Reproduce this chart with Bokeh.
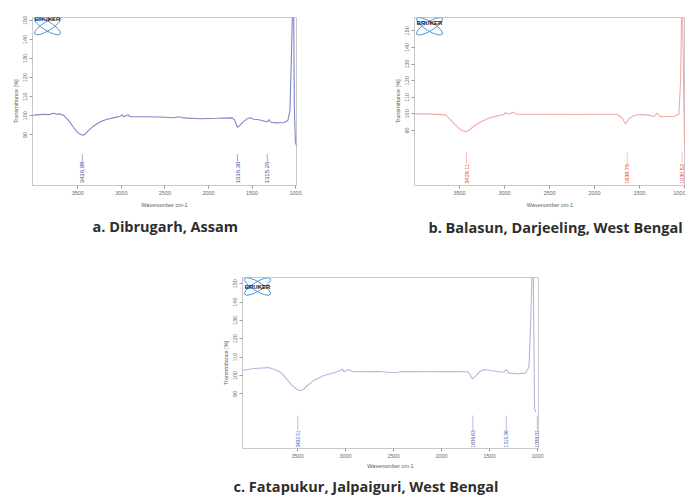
from bokeh.plotting import figure
from bokeh.models import Range1d, FixedTicker, Label
from bokeh.layouts import row, column, Spacer
from bokeh.embed import file_html
from bokeh.resources import INLINE
from bokeh.core.properties import value

# ---------------- data ----------------
a_wn = [4020, 3969, 3893, 3836, 3778, 3739, 3701, 3663, 3624, 3586, 3548, 3510, 3471, 3440,
        3414, 3376, 3318, 3241, 3164, 3069, 3011, 2992, 2974, 2923, 2897, 2744, 2552, 2399,
        2341, 2284, 2092, 1900, 1728, 1698, 1667, 1640, 1601, 1555, 1525, 1479, 1422, 1364,
        1325, 1307, 1287, 1210, 1134, 1089, 1066, 1049, 1034, 1023, 1015, 1003, 990]
a_tr = [100.3, 100.5, 100.8, 100.6, 101.3, 100.8, 101.0, 100.2, 98.5, 96.3, 93.9, 91.6, 90.3, 89.8,
        90.5, 92.4, 94.7, 96.9, 98.2, 99.2, 99.8, 100.6, 99.5, 100.5, 99.5, 99.5, 99.4, 99.0,
        99.5, 98.9, 98.5, 98.7, 98.9, 97.6, 93.9, 95.0, 96.8, 98.5, 99.0, 98.2, 97.9, 97.3,
        96.8, 98.1, 96.6, 96.3, 96.5, 97.6, 102.4, 129.8, 160.0, 160.0, 105.6, 86.3, 84.4]
a_peaks = [3448, 1667, 1325]
a_peak_labels = ["3436.98", "1636.30", "1315.26"]

b_wn = [4000, 3859, 3656, 3600, 3544, 3489, 3433, 3396, 3341, 3267, 3174, 3081, 3007, 2989,
        2952, 2904, 2859, 2563, 2193, 2007, 1748, 1692, 1656, 1619, 1563, 1489, 1415, 1341,
        1304, 1267, 1119, 1063, 1044, 1033, 1022, 1000, 989]
b_tr = [100.0, 100.0, 99.4, 96.5, 93.2, 90.4, 89.3, 90.0, 92.6, 95.1, 97.5, 98.8, 99.6, 100.8,
        99.8, 101.0, 99.8, 99.8, 99.6, 99.8, 99.8, 97.5, 93.9, 97.0, 99.0, 99.6, 99.4, 98.4,
        100.4, 98.4, 98.4, 99.8, 119.0, 160.0, 160.0, 82.0, 78.0]
b_peaks = [3422, 1637, 1026]
b_peak_labels = ["3429.11", "1638.76", "1030.52"]

c_wn = [4070, 3955, 3799, 3711, 3659, 3607, 3555, 3510, 3476, 3441, 3399, 3330, 3226, 3122,
        3052, 3034, 3018, 2966, 2930, 2670, 2479, 2409, 2149, 1906, 1732, 1705, 1680, 1646,
        1601, 1559, 1490, 1420, 1351, 1323, 1299, 1212, 1125, 1090, 1073, 1055, 1045, 1031, 1020]
c_tr = [102.7, 103.8, 104.3, 102.7, 100.9, 97.6, 94.5, 92.5, 91.8, 92.2, 94.4, 97.3, 100.0, 101.5,
        102.7, 103.5, 102.0, 103.3, 102.0, 102.2, 101.5, 102.2, 102.0, 102.2, 102.0, 100.7, 98.2, 99.5,
        102.2, 103.3, 102.7, 102.2, 101.8, 103.3, 101.3, 100.9, 101.3, 104.5, 126.4, 160.0, 160.0, 82.0, 80.0]
c_peaks = [3497, 1674, 1326, 1003]
c_peak_labels = ["3432.51", "1636.63", "1315.36", "1038.07"]

x_ticks = [3500, 3000, 2500, 2000, 1500, 1000]
y_ticks = [90, 100, 110, 120, 130, 140, 150]
captions = ["a. Dibrugarh, Assam", "b. Balasun, Darjeeling, West Bengal",
            "c. Fatapukur, Jalpaiguri, West Bengal"]

CAP_FONT = "Open Sans"
CAP_SIZE = "14.5px"
CAP_COLOR = "#2e2e2e"


def panel(wn, tr, peaks, peak_labels, caption, xr, yr, fig_w, fig_h, b_left, b_top, frame_w, frame_h,
          line_color, mark_color, text_color, mark_px, peak_font, cap_offset, cap_standoff,
          title_standoff):
    p = figure(width=fig_w, height=fig_h, x_range=Range1d(*xr), y_range=Range1d(*yr),
               output_backend="svg", toolbar_location=None,
               min_border_left=b_left, min_border_top=b_top,
               min_border_right=fig_w - b_left - frame_w,
               min_border_bottom=fig_h - b_top - frame_h,
               title_location="below")
    p.background_fill_color = "white"
    p.border_fill_color = "white"
    p.outline_line_color = "#c9c9c9"
    p.outline_line_width = 1
    p.grid.grid_line_color = None

    for ax in (p.xaxis[0], p.yaxis[0]):
        ax.axis_line_color = "#c9c9c9"
        ax.major_tick_line_color = "#9a9a9a"
        ax.major_tick_out = 3
        ax.major_tick_in = 0
        ax.minor_tick_line_color = None
        ax.major_label_text_font = "Liberation Sans"
        ax.major_label_text_font_size = "5.5px"
        ax.major_label_text_color = "#6a6a6a"
        ax.axis_label_text_font = "Liberation Sans"
        ax.axis_label_text_font_size = "5.5px"
        ax.axis_label_text_font_style = "normal"
        ax.axis_label_text_color = "#5a5a5a"
    p.xaxis.ticker = FixedTicker(ticks=x_ticks)
    p.yaxis.ticker = FixedTicker(ticks=y_ticks)
    p.yaxis.major_label_orientation = "vertical"
    p.xaxis.major_label_standoff = 2
    p.yaxis.major_label_standoff = 2
    p.xaxis.axis_label = "Wavenumber cm-1"
    p.yaxis.axis_label = "Transmittance [%]"
    p.xaxis.axis_label_standoff = title_standoff
    p.yaxis.axis_label_standoff = 2

    # caption (figure title placed below the chart)
    if caption is not None:
        p.title.text = caption
        p.title.align = "left"
        p.title.offset = cap_offset
        p.title.standoff = cap_standoff
        p.title.text_font = CAP_FONT
        p.title.text_font_style = "bold"
        p.title.text_font_size = CAP_SIZE
        p.title.text_color = CAP_COLOR

    # spectrum
    p.line(wn, tr, line_color=line_color, line_width=1.1)

    # peak markers (vertical extents placed in screen pixels above the frame bottom)
    span = yr[1] - yr[0]
    top_y = yr[0] + span * mark_px[0] / frame_h
    bot_y = yr[0] + span * mark_px[1] / frame_h
    p.segment(x0=peaks, y0=[top_y] * len(peaks), x1=peaks, y1=[bot_y] * len(peaks),
              line_color=mark_color, line_width=0.8)
    p.text(x=peaks, y=[bot_y] * len(peaks), text=peak_labels, angle=1.5708,
           text_align="right", text_baseline="middle", text_font=value("Liberation Sans"),
           text_font_size=peak_font, text_color=text_color)

    # Bruker logo (decoration, top-left of the frame)
    lx = xr[0] + (xr[1] - xr[0]) * 15 / frame_w
    ly = yr[1] - span * 9 / frame_h
    p.ellipse(x=[lx, lx], y=[ly, ly], width=[30, 30], height=[9, 9], angle=[0.55, -0.55],
              width_units="screen", height_units="screen", fill_color=None,
              line_color="#4a95d8", line_width=1)
    p.add_layout(Label(x=15, y=frame_h - 9, x_units="screen", y_units="screen", text="BRUKER",
                       text_align="center", text_baseline="middle", text_font="Liberation Sans",
                       text_font_style="bold", text_font_size="6px", text_color="#111111"))
    return p


pa = panel(a_wn, a_tr, a_peaks, a_peak_labels, captions[0], (4020, 990), (63.5, 151.5),
           360, 260, 32, 9, 264, 176, "#7f86c6", "#8c90c8", "#3c3ca0", (33, 25), "6px",
           60, 8, 4)
pb = panel(b_wn, b_tr, b_peaks, b_peak_labels, captions[1], (4000, 989), (56.9, 158.0),
           325, 260, 54, 17, 271, 172, "#f2a9a9", "#f0b4b4", "#e04040", (34, 22), "5.5px",
           14, 10, 4)
pc = panel(c_wn, c_tr, c_peaks, c_peak_labels, None, (4073, 990), (60.2, 153.4),
           340, 211, 32, 17, 296, 171, "#b3b7e0", "#a9acd8", "#4a4aa8", (33, 18), "4.7px",
           0, 0, 2)

# caption strip for panel c (a small figure whose frame holds the caption text)
cap_c = figure(width=340, height=24, x_range=Range1d(0, 1), y_range=Range1d(0, 1),
               output_backend="svg", toolbar_location=None, x_axis_type=None, y_axis_type=None,
               min_border_left=0, min_border_right=0, min_border_top=0, min_border_bottom=0)
cap_c.outline_line_color = None
cap_c.grid.grid_line_color = None
cap_c.border_fill_color = "white"
cap_c.add_layout(Label(x=33, y=9, x_units="screen", y_units="screen", text=captions[2],
                       text_align="left", text_baseline="middle", text_font=CAP_FONT,
                       text_font_style="bold", text_font_size=CAP_SIZE, text_color=CAP_COLOR))

layout = column(row(pa, pb, spacing=0),
                row(Spacer(width=210, height=211), pc, spacing=0),
                row(Spacer(width=200, height=24), cap_c, spacing=0),
                spacing=0)
open("out.html", "w").write(file_html(layout, INLINE))
